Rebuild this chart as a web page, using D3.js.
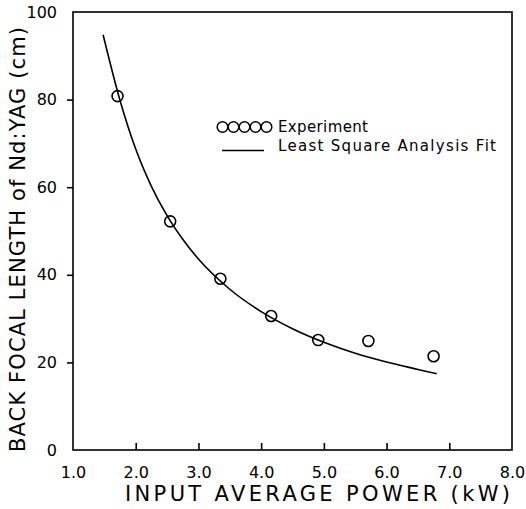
<!DOCTYPE html>
<html>
<head>
<meta charset="utf-8">
<script src="https://cdn.jsdelivr.net/npm/d3@7"></script>
<style>
  body { margin: 0; background: #fff; }
  text { fill: #000; }
</style>
</head>
<body>
<div id="chart"></div>
<script>
// experiment points (kW, cm)
const powerExp = [1.71, 2.55, 3.35, 4.16, 4.91, 5.71, 6.75];
const focalExp = [80.8, 52.2, 39.1, 30.6, 25.1, 24.9, 21.4];

// least square fit curve
const powerFit = [1.48, 1.75, 2.0, 2.25, 2.5, 2.75, 3.0, 3.5, 4.0, 4.5, 5.0, 5.5, 6.0, 6.5, 6.8];
const focalFit = [94.8, 79.8, 68.7, 60.2, 53.5, 48.1, 43.6, 36.7, 31.6, 27.7, 24.6, 22.1, 20.1, 18.4, 17.4];

const xTicks = [1, 2, 3, 4, 5, 6, 7, 8];
const yTicks = [0, 20, 40, 60, 80, 100];
const legendLabels = ["Experiment", "Least Square Analysis Fit"];

const xLabel = "INPUT AVERAGE POWER (kW)";
const yLabel = "BACK FOCAL LENGTH of Nd:YAG (cm)";

function createChart(selector) {
    const margin = { top: 12, right: 14, bottom: 59, left: 73 };
    const width = 526 - margin.left - margin.right;
    const height = 509 - margin.top - margin.bottom;

    const svg = d3.select(selector).append('svg')
        .attr('width', 526)
        .attr('height', 509)
        .style('font-family', "'DejaVu Sans', sans-serif");

    const g = svg.append('g')
        .attr('transform', `translate(${margin.left},${margin.top})`);

    const x = d3.scaleLinear().domain([1, 8]).range([0, width]);
    const y = d3.scaleLinear().domain([0, 100]).range([height, 0]);

    // frame
    g.append('rect')
        .attr('width', width)
        .attr('height', height)
        .attr('fill', 'none')
        .attr('stroke', '#000')
        .attr('stroke-width', 1.6);

    // x axis: ticks point inward
    const xAxis = g.append('g')
        .attr('transform', `translate(0,${height})`)
        .call(d3.axisBottom(x).tickValues(xTicks).tickSizeInner(-7).tickSizeOuter(0)
            .tickPadding(17).tickFormat(d3.format('.1f')));
    xAxis.select('.domain').remove();
    xAxis.selectAll('line').attr('stroke-width', 1.6);
    xAxis.selectAll('text')
        .style('font-size', '16px')
        .style('font-family', "'DejaVu Sans', sans-serif")
        .attr('fill', '#000');
    xAxis.selectAll('.tick').filter(d => d === 1 || d === 8).select('line').remove();

    // y axis: ticks point outward
    const yAxis = g.append('g')
        .call(d3.axisLeft(y).tickValues(yTicks).tickSize(6).tickSizeOuter(0).tickPadding(10));
    yAxis.select('.domain').remove();
    yAxis.selectAll('line').attr('stroke-width', 1.6);
    yAxis.selectAll('text')
        .style('font-size', '16px')
        .style('font-family', "'DejaVu Sans', sans-serif")
        .attr('fill', '#000');
    yAxis.selectAll('.tick').filter(d => d === 0 || d === 100).select('line').remove();

    // fit curve
    const fitData = powerFit.map((p, i) => [p, focalFit[i]]);
    const line = d3.line()
        .x(d => x(d[0]))
        .y(d => y(d[1]))
        .curve(d3.curveMonotoneX);

    g.append('path')
        .datum(fitData)
        .attr('fill', 'none')
        .attr('stroke', '#000')
        .attr('stroke-width', 1.6)
        .attr('d', line);

    // experiment points
    const expData = powerExp.map((p, i) => [p, focalExp[i]]);
    g.selectAll('circle.exp')
        .data(expData)
        .enter()
        .append('circle')
        .attr('class', 'exp')
        .attr('cx', d => x(d[0]))
        .attr('cy', d => y(d[1]))
        .attr('r', 5.5)
        .attr('fill', 'none')
        .attr('stroke', '#000')
        .attr('stroke-width', 1.6);

    // legend
    const legend = svg.append('g');
    legend.selectAll('circle')
        .data(d3.range(5))
        .enter()
        .append('circle')
        .attr('cx', i => 222.5 + i * 11)
        .attr('cy', 127)
        .attr('r', 5.3)
        .attr('fill', 'none')
        .attr('stroke', '#000')
        .attr('stroke-width', 1.5);
    legend.append('line')
        .attr('x1', 222).attr('x2', 264)
        .attr('y1', 150.5).attr('y2', 150.5)
        .attr('stroke', '#000')
        .attr('stroke-width', 1.5);
    legend.selectAll('text')
        .data(legendLabels)
        .enter()
        .append('text')
        .attr('x', 278)
        .attr('y', (d, i) => 132 + i * 19)
        .attr('textLength', (d, i) => i === 0 ? 90 : 218)
        .attr('lengthAdjust', 'spacing')
        .style('font-size', '15px')
        .text(d => d);

    // axis titles
    svg.append('text')
        .attr('x', 125)
        .attr('y', 501)
        .attr('textLength', 385)
        .attr('lengthAdjust', 'spacing')
        .style('font-size', '21px')
        .text(xLabel);

    svg.append('text')
        .attr('transform', 'rotate(-90)')
        .attr('x', -452)
        .attr('y', 25)
        .attr('textLength', 425)
        .attr('lengthAdjust', 'spacing')
        .style('font-size', '21px')
        .text(yLabel);
}

createChart('#chart');
</script>
</body>
</html>
